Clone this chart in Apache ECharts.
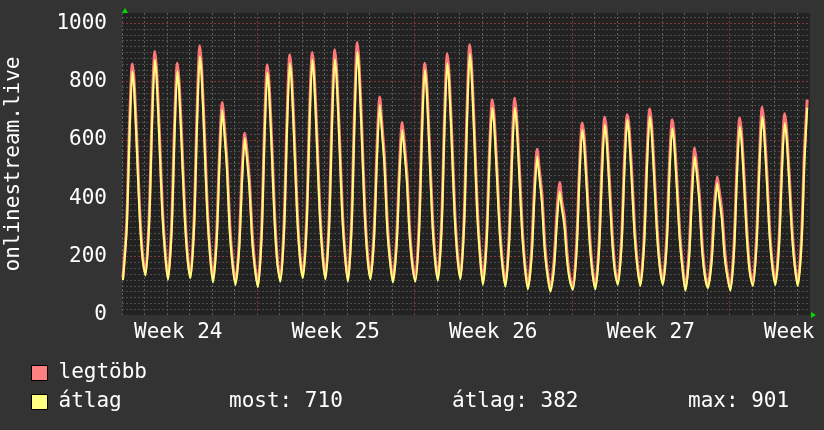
<!DOCTYPE html>
<html>
<head>
<meta charset="utf-8">
<title>onlinestream.live</title>
<script src="https://cdn.jsdelivr.net/npm/echarts@6/dist/echarts.min.js"></script>
<style>
  html, body { margin: 0; padding: 0; background: #333333; }
  #chart { width: 824px; height: 430px; }
</style>
</head>
<body>
<div id="chart"></div>
<script>
const sampleHours = [1, 5, 8, 11, 13, 16, 19, 22];
// x axis in hours, hour 0 = monday 00:00 of week 24
const firstHour = 24;
const lastHour = 758;
const weekStarts = [168, 336, 504, 672];
const weekLabels = ['Week 24', 'Week 25', 'Week 26', 'Week 27', 'Week 28'];
const legendNames = ['legtöbb', 'átlag'];
const statNames = ['most', 'átlag', 'max'];
const statValues = [710, 382, 901];

// one row per day, day 1 first
const maxByDay = [
  [128, 317, 648, 860, 796, 586, 352, 204],
  [143, 338, 681, 903, 833, 616, 375, 221],
  [128, 315, 645, 863, 793, 582, 355, 202],
  [134, 333, 685, 923, 843, 620, 371, 214],
  [119, 278, 554, 728, 657, 526, 308, 182],
  [111, 249, 485, 623, 571, 460, 274, 165],
  [103, 296, 636, 858, 788, 573, 333, 180],
  [122, 319, 666, 892, 821, 601, 356, 201],
  [134, 331, 678, 900, 833, 613, 368, 213],
  [130, 328, 678, 909, 834, 613, 366, 210],
  [122, 328, 692, 934, 855, 624, 367, 205],
  [130, 291, 570, 747, 665, 541, 320, 194],
  [119, 262, 508, 660, 597, 482, 288, 175],
  [122, 313, 650, 863, 800, 587, 350, 199],
  [126, 322, 667, 895, 821, 602, 359, 205],
  [130, 333, 690, 926, 850, 624, 371, 211],
  [111, 273, 556, 738, 679, 503, 304, 176],
  [105, 269, 554, 743, 679, 500, 299, 170],
  [96, 222, 437, 568, 505, 414, 245, 146],
  [88, 187, 352, 454, 395, 333, 204, 126],
  [94, 243, 500, 658, 611, 451, 270, 153],
  [96, 248, 512, 678, 626, 462, 277, 156],
  [111, 264, 529, 686, 643, 478, 292, 172],
  [107, 263, 535, 706, 653, 483, 292, 169],
  [111, 257, 509, 669, 617, 461, 284, 169],
  [91, 218, 435, 572, 515, 412, 241, 141],
  [100, 203, 375, 474, 430, 356, 221, 140],
  [91, 243, 506, 675, 620, 456, 271, 151],
  [107, 265, 533, 712, 650, 485, 290, 172],
  [111, 261, 521, 690, 633, 472, 289, 171],
  [107, 270, 555, 738]
];
const avgByDay = [
  [120, 292, 613, 835, 771, 556, 327, 192],
  [135, 313, 646, 875, 808, 586, 350, 209],
  [120, 290, 610, 835, 768, 552, 330, 190],
  [126, 308, 650, 886, 818, 590, 346, 202],
  [111, 253, 519, 703, 632, 496, 283, 170],
  [103, 224, 450, 606, 546, 430, 249, 153],
  [95, 271, 601, 829, 763, 543, 308, 168],
  [114, 294, 631, 863, 796, 571, 331, 189],
  [126, 306, 643, 875, 808, 583, 343, 201],
  [122, 303, 643, 877, 809, 583, 341, 198],
  [114, 303, 657, 901, 830, 594, 342, 193],
  [122, 266, 535, 720, 640, 511, 295, 182],
  [111, 237, 473, 635, 572, 452, 263, 163],
  [114, 288, 615, 840, 775, 557, 325, 187],
  [118, 297, 632, 863, 796, 572, 334, 193],
  [122, 308, 655, 895, 825, 594, 346, 199],
  [103, 248, 521, 709, 654, 473, 279, 164],
  [97, 244, 519, 709, 654, 470, 274, 158],
  [88, 197, 402, 543, 480, 384, 220, 134],
  [80, 162, 317, 423, 370, 303, 179, 114],
  [86, 218, 465, 635, 586, 421, 245, 141],
  [88, 223, 477, 652, 601, 432, 252, 144],
  [103, 239, 494, 669, 618, 448, 267, 160],
  [99, 238, 500, 680, 628, 453, 267, 157],
  [103, 232, 474, 640, 592, 431, 259, 157],
  [83, 193, 400, 543, 490, 382, 216, 129],
  [92, 178, 340, 452, 405, 326, 196, 128],
  [83, 218, 471, 646, 595, 426, 246, 139],
  [99, 240, 498, 680, 625, 455, 265, 160],
  [103, 236, 486, 658, 608, 442, 264, 159],
  [99, 245, 520, 710]
];

const monoFont = 'DejaVu Sans Mono';
const weekGrid = '#823838';

function toSeries(rows) {
  const out = [];
  rows.forEach((row, d) => {
    row.forEach((v, i) => {
      out.push([(d + 1) * 24 + sampleHours[i], v]);
    });
  });
  return out;
}

const chart = echarts.init(document.getElementById('chart'));
const option = {
  backgroundColor: '#333333',
  animation: false,
  textStyle: { fontFamily: monoFont },
  grid: {
    left: 122,
    right: 14,
    top: 13,
    bottom: 115,
    outerBoundsMode: 'none',
    show: true,
    backgroundColor: '#222222',
    borderWidth: 0
  },
  legend: {
    orient: 'vertical',
    left: 31,
    top: 362,
    padding: 0,
    itemWidth: 16,
    itemHeight: 15,
    itemGap: 7,
    icon: 'rect',
    itemStyle: { borderColor: '#000', borderWidth: 1 },
    textStyle: {
      color: '#ffffff',
      fontSize: 21,
      lineHeight: 22,
      fontFamily: monoFont,
      padding: [0, 0, 0, 6]
    },
    data: legendNames
  },
  xAxis: [
    {
      // one dotted grid line per day
      type: 'value',
      min: firstHour,
      max: lastHour,
      interval: 24,
      position: 'bottom',
      axisLine: { show: false },
      axisTick: { show: false },
      axisLabel: { show: false },
      splitLine: {
        show: true,
        showMaxLine: false,
        lineStyle: { color: '#5c5c5c', width: 1, type: [2, 2] }
      }
    },
    {
      // week labels in the middle of each week
      type: 'value',
      min: firstHour,
      max: lastHour,
      interval: 12,
      position: 'bottom',
      axisLine: { show: false },
      axisTick: { show: false },
      splitLine: { show: false },
      axisLabel: {
        color: '#ffffff',
        fontSize: 21,
        fontFamily: monoFont,
        margin: 7,
        showMinLabel: true,
        showMaxLabel: true,
        formatter: (v) => ((v - 84) % 168 === 0 ? weekLabels[(v - 84) / 168] : '')
      }
    }
  ],
  yAxis: [
    {
      // minor grid
      type: 'value',
      min: 0,
      max: 1035,
      interval: 20,
      position: 'left',
      axisLine: { show: false },
      axisTick: { show: false },
      axisLabel: { show: false },
      splitLine: {
        showMinLine: false,
        showMaxLine: false,
        lineStyle: { color: '#4c4c4c', width: 1, type: [2, 2] }
      }
    },
    {
      type: 'value',
      min: 0,
      max: 1035,
      interval: 200,
      position: 'left',
      name: 'onlinestream.live',
      nameLocation: 'middle',
      nameRotate: 90,
      nameGap: 98,
      nameTextStyle: { color: '#ffffff', fontSize: 21, fontFamily: monoFont },
      axisLine: { show: false },
      axisTick: { show: false },
      axisLabel: {
        color: '#ffffff',
        fontSize: 21,
        fontFamily: monoFont,
        margin: 15,
        showMaxLabel: false,
        formatter: (v) => String(v)
      },
      splitLine: {
        showMinLine: false,
        showMaxLine: false,
        lineStyle: { color: weekGrid, width: 1, type: [2, 2] }
      }
    }
  ],
  series: [
    {
      name: legendNames[0],
      type: 'line',
      xAxisIndex: 0,
      yAxisIndex: 1,
      data: toSeries(maxByDay),
      symbol: 'none',
      smooth: 0.25,
      lineStyle: { color: '#ff7878', width: 3 },
      itemStyle: { color: '#ff8080' },
      // week boundaries
      markLine: {
        z: 1,
        silent: true,
        symbol: 'none',
        label: { show: false },
        lineStyle: { color: weekGrid, width: 1, type: [2, 2] },
        data: weekStarts.map((h) => ({ xAxis: h }))
      }
    },
    {
      name: legendNames[1],
      type: 'line',
      xAxisIndex: 0,
      yAxisIndex: 1,
      data: toSeries(avgByDay),
      symbol: 'none',
      smooth: 0.25,
      lineStyle: { color: '#ffff7c', width: 2 },
      itemStyle: { color: '#ffff80' }
    }
  ],
  graphic: [
    {
      type: 'text', x: 229, y: 402,
      style: { text: statNames[0] + ': ' + statValues[0], fill: '#ffffff', font: '21px "DejaVu Sans Mono"', verticalAlign: 'middle' }
    },
    {
      type: 'text', x: 452, y: 402,
      style: { text: statNames[1] + ': ' + statValues[1], fill: '#ffffff', font: '21px "DejaVu Sans Mono"', verticalAlign: 'middle' }
    },
    {
      type: 'text', x: 688, y: 402,
      style: { text: statNames[2] + ': ' + statValues[2], fill: '#ffffff', font: '21px "DejaVu Sans Mono"', verticalAlign: 'middle' }
    },
    {
      // axis arrows
      type: 'polygon',
      shape: { points: [[122, 13], [128, 13], [125, 8]] },
      style: { fill: '#00dd00' }
    },
    {
      type: 'polygon',
      shape: { points: [[811, 312], [811, 318], [816, 315]] },
      style: { fill: '#00dd00' }
    }
  ]
};
chart.setOption(option);
</script>
</body>
</html>
